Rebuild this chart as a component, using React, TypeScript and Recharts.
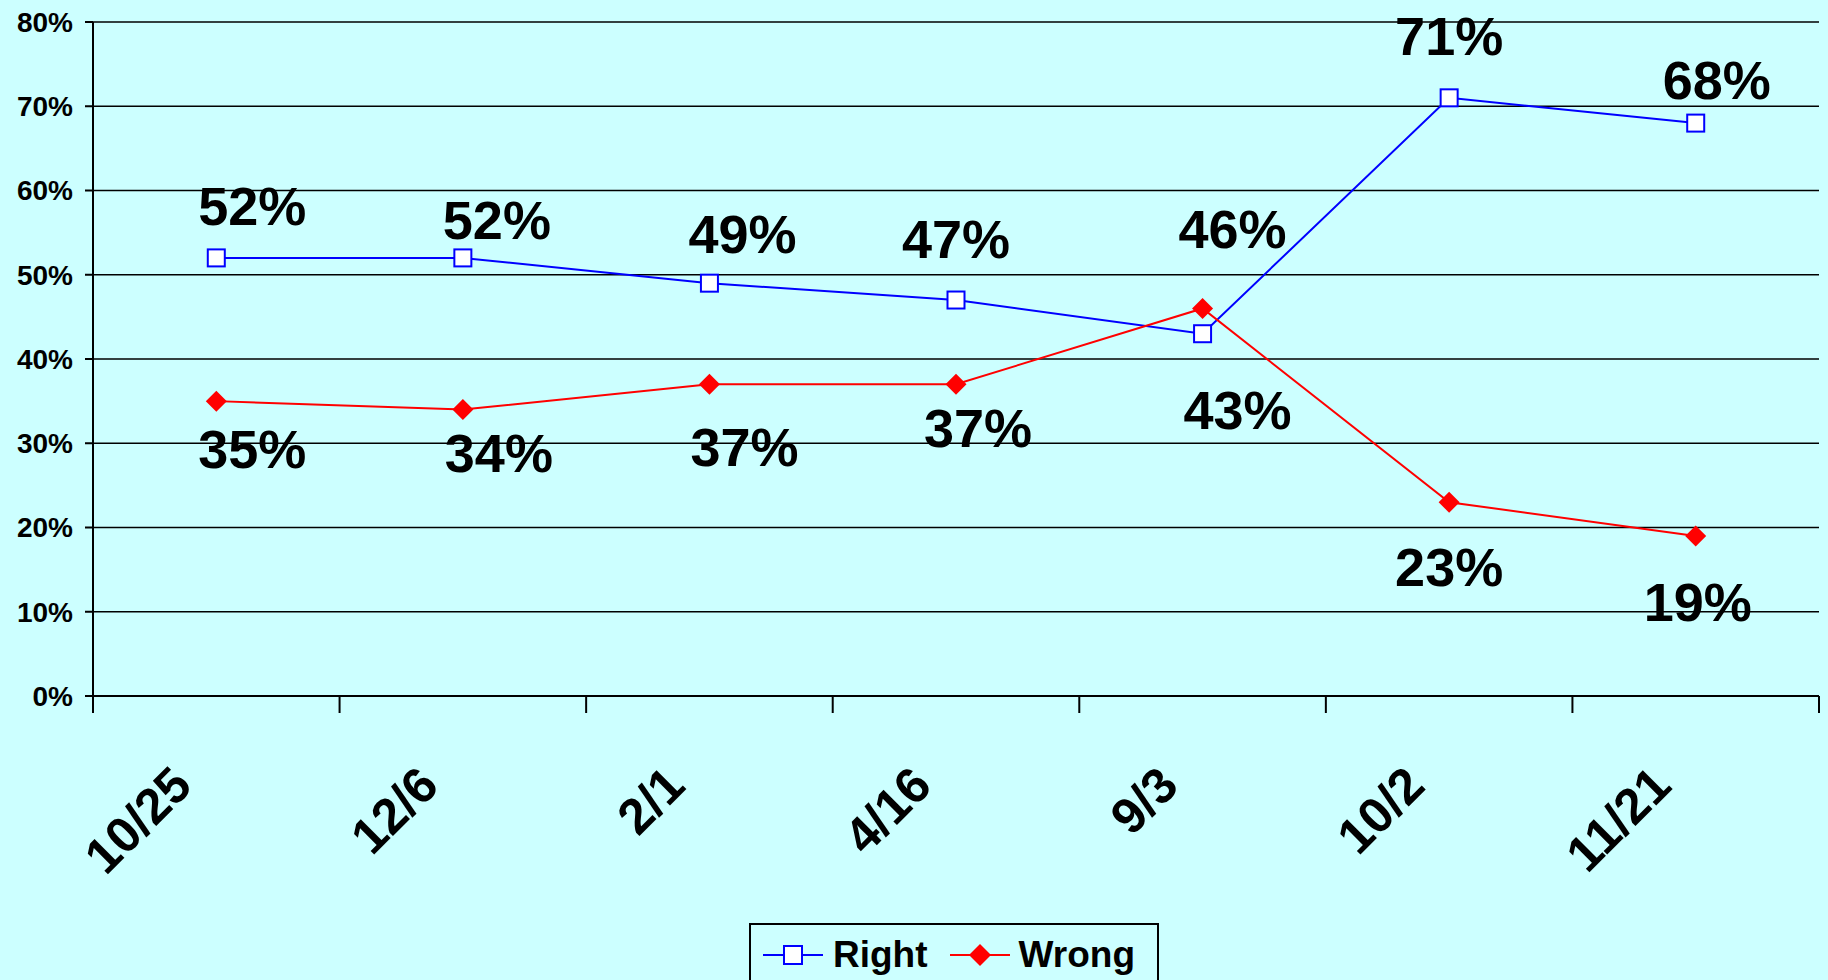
import React from 'react';
import { LineChart, Line, XAxis, YAxis, CartesianGrid, LabelList, Legend } from 'recharts';

// survey dates and the two series, in percent
const dates = ['10/25', '12/6', '2/1', '4/16', '9/3', '10/2', '11/21'];
const rightPct = [52, 52, 49, 47, 43, 71, 68];
const wrongPct = [35, 34, 37, 37, 46, 23, 19];
const yTicks = [0, 10, 20, 30, 40, 50, 60, 70, 80];

// hand-placed label nudges (dx, dy) from each point, like the original slide
const rightLabelNudge = [[36, -52], [34, -38], [33, -49], [0, -61], [35, 76], [0, -62], [21, -43]];
const wrongLabelNudge = [[36, 48], [36, 43], [35, 63], [22, 44], [30, -79], [0, 65], [2, 66]];

const W = 1828;
const H = 980;
const PLOT_LEFT = 93;
const PLOT_RIGHT = 1819;
const PLOT_TOP = 22;
const PLOT_BOTTOM = 696;
const HALF_BAND = (PLOT_RIGHT - PLOT_LEFT) / dates.length / 2;
const FONT = '"Liberation Sans", Arial, Helvetica, sans-serif';
const BG = '#CCFFFF';

const data = dates.map((d, i) => ({ date: d, right: rightPct[i], wrong: wrongPct[i] }));

const SquareDot = (props: any) => {
  const { cx, cy } = props;
  if (cx == null || cy == null) return null;
  return <rect x={cx - 8.5} y={cy - 8.5} width={17} height={17} fill="#fff" stroke="#0000FF" strokeWidth={2} />;
};

const DiamondDot = (props: any) => {
  const { cx, cy } = props;
  if (cx == null || cy == null) return null;
  const r = 10.5;
  return <polygon points={`${cx},${cy - r} ${cx + r},${cy} ${cx},${cy + r} ${cx - r},${cy}`} fill="#FF0000" />;
};

const makeLabel = (nudge: number[][]) => (props: any) => {
  const { x, y, value, index } = props;
  const [dx, dy] = nudge[index] || [0, 0];
  return (
    <text
      x={x + dx}
      y={y + dy}
      textAnchor="middle"
      dominantBaseline="central"
      fontFamily={FONT}
      fontWeight="bold"
      fontSize={54}
      fill="#000"
    >
      {value}%
    </text>
  );
};

// category labels sit between tick marks (Excel style), rotated 45 degrees
const DateTick = (props: any) => {
  const { x, payload, index } = props;
  const tx = x - 22;
  const ty = PLOT_BOTTOM + 92;
  return (
    <g>
      <line x1={x - HALF_BAND} x2={x - HALF_BAND} y1={PLOT_BOTTOM} y2={PLOT_BOTTOM + 17} stroke="#000" strokeWidth={2} />
      {index === dates.length - 1 && (
        <line x1={x + HALF_BAND} x2={x + HALF_BAND} y1={PLOT_BOTTOM} y2={PLOT_BOTTOM + 17} stroke="#000" strokeWidth={2} />
      )}
      <text
        x={tx}
        y={ty}
        textAnchor="end"
        transform={`rotate(-45 ${tx} ${ty})`}
        fontFamily={FONT}
        fontWeight="bold"
        fontSize={50}
        fill="#000"
      >
        {payload.value}
      </text>
    </g>
  );
};

const LegendBox = () => (
  <div
    style={{
      boxSizing: 'border-box',
      width: 410,
      height: 80,
      border: '2px solid #000',
      paddingTop: 10,
      paddingLeft: 12,
      fontFamily: FONT,
      fontWeight: 'bold',
      fontSize: 37,
      lineHeight: '40px',
    }}
  >
    <div style={{ display: 'flex', alignItems: 'center', height: 40 }}>
      <svg width={60} height={40}>
        <line x1={0} x2={60} y1={20} y2={20} stroke="#0000FF" strokeWidth={2} />
        <rect x={21} y={11} width={18} height={18} fill="#fff" stroke="#0000FF" strokeWidth={2} />
      </svg>
      <span style={{ marginLeft: 10, marginRight: 22 }}>Right</span>
      <svg width={60} height={40}>
        <line x1={0} x2={60} y1={20} y2={20} stroke="#FF0000" strokeWidth={2} />
        <polygon points="30,9 41,20 30,31 19,20" fill="#FF0000" />
      </svg>
      <span style={{ marginLeft: 9 }}>Wrong</span>
    </div>
  </div>
);

export default function App() {
  return (
    <div style={{ position: 'absolute', left: 0, top: 0, width: W, height: H, background: BG, overflow: 'hidden' }}>
      <LineChart
        width={W}
        height={H}
        data={data}
        margin={{ top: PLOT_TOP, right: W - PLOT_RIGHT, left: PLOT_LEFT - 80, bottom: H - PLOT_BOTTOM - 30 }}
      >
        <CartesianGrid vertical={false} stroke="#000" strokeWidth={1.5} strokeOpacity={1} />
        <XAxis
          dataKey="date"
          scale="point"
          padding={{ left: HALF_BAND, right: HALF_BAND }}
          interval={0}
          height={30}
          tickLine={false}
          axisLine={{ stroke: '#000', strokeWidth: 2 }}
          tick={<DateTick />}
        />
        <YAxis
          width={80}
          domain={[0, 80]}
          ticks={yTicks}
          interval={0}
          tickFormatter={(v: number) => `${v}%`}
          tickSize={8}
          tickMargin={12}
          tickLine={{ stroke: '#000', strokeWidth: 2 }}
          axisLine={{ stroke: '#000', strokeWidth: 2 }}
          tick={{ fill: '#000', fontFamily: FONT, fontWeight: 'bold', fontSize: 28 }}
        />
        <YAxis
          yAxisId="edge"
          orientation="right"
          width={0}
          domain={[0, 80]}
          tick={false}
          tickLine={false}
          axisLine={{ stroke: '#000', strokeWidth: 2 }}
        />
        <Legend
          layout="horizontal"
          verticalAlign="middle"
          align="center"
          wrapperStyle={{ left: 749, top: 923, width: 410 }}
          content={<LegendBox />}
        />
        <Line
          type="linear"
          dataKey="right"
          name="Right"
          stroke="#0000FF"
          strokeWidth={2}
          dot={<SquareDot />}
          activeDot={false}
          isAnimationActive={false}
        >
          <LabelList dataKey="right" content={makeLabel(rightLabelNudge)} />
        </Line>
        <Line
          type="linear"
          dataKey="wrong"
          name="Wrong"
          stroke="#FF0000"
          strokeWidth={2}
          dot={<DiamondDot />}
          activeDot={false}
          isAnimationActive={false}
        >
          <LabelList dataKey="wrong" content={makeLabel(wrongLabelNudge)} />
        </Line>
      </LineChart>
    </div>
  );
}
